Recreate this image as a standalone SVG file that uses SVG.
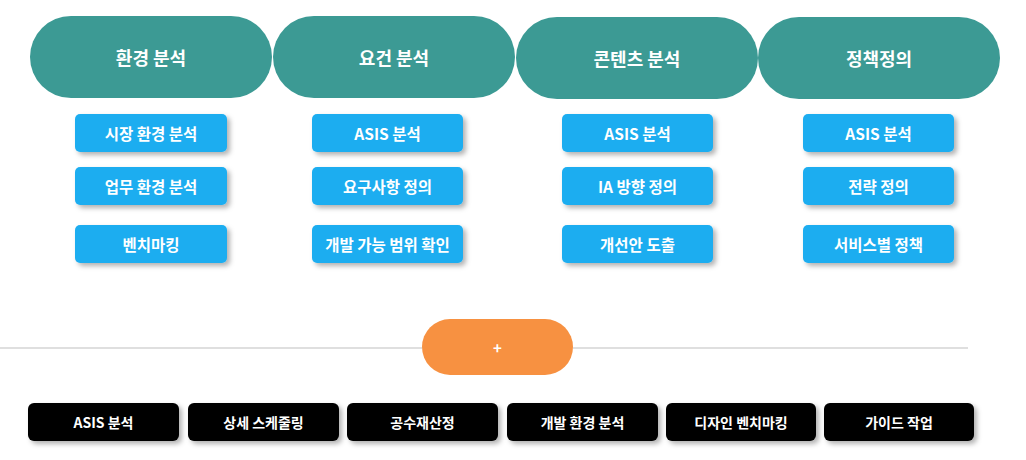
<svg xmlns="http://www.w3.org/2000/svg" width="1026" height="460" viewBox="0 0 1026 460">
<style>
text{font-family:"Noto Sans CJK KR","Noto Sans",sans-serif;font-weight:bold;fill:#fff;text-anchor:middle;dominant-baseline:central}
.pill{fill:#3C9A94}
.pt{font-size:18px}
.blue{fill:#1DADF0}
.bt{font-size:15.5px}
.blk{fill:#000}
.kt{font-size:14px}
.line{stroke:#d4d4d4;stroke-width:1.5}
</style>
<defs>
<filter id="sh" x="-10%" y="-20%" width="125%" height="160%">
<feDropShadow dx="3" dy="3" stdDeviation="2.5" flood-color="#000" flood-opacity="0.3"/>
</filter>
</defs>
<rect width="1026" height="460" fill="#fff"/>
<g id="connectors">
<line class="line" x1="0" y1="348" x2="422" y2="348"/>
<line class="line" x1="573" y1="348" x2="968" y2="348"/>
</g>
<g id="h1"><rect class="pill" x="30" y="16" width="242" height="82" rx="41"/><text class="pt" x="151" y="57">환경 분석</text></g>
<g id="h2"><rect class="pill" x="273" y="16" width="242" height="82" rx="41"/><text class="pt" x="394" y="57">요건 분석</text></g>
<g id="h3"><rect class="pill" x="516" y="17" width="242" height="82" rx="41"/><text class="pt" x="637" y="58">콘텐츠 분석</text></g>
<g id="h4"><rect class="pill" x="758" y="17" width="242" height="82" rx="41"/><text class="pt" x="879" y="58">정책정의</text></g>

<g id="b11"><rect class="blue" filter="url(#sh)" x="75" y="114" width="152" height="38" rx="5"/><text class="bt" x="151" y="133">시장 환경 분석</text></g>
<g id="b12"><rect class="blue" filter="url(#sh)" x="75" y="167" width="152" height="38" rx="5"/><text class="bt" x="151" y="186">업무 환경 분석</text></g>
<g id="b13"><rect class="blue" filter="url(#sh)" x="75" y="225" width="152" height="38" rx="5"/><text class="bt" x="151" y="244">벤치마킹</text></g>

<g id="b21"><rect class="blue" filter="url(#sh)" x="312" y="114" width="151" height="38" rx="5"/><text class="bt" x="387.5" y="133">ASIS 분석</text></g>
<g id="b22"><rect class="blue" filter="url(#sh)" x="312" y="167" width="151" height="38" rx="5"/><text class="bt" x="387.5" y="186">요구사항 정의</text></g>
<g id="b23"><rect class="blue" filter="url(#sh)" x="312" y="225" width="151" height="38" rx="5"/><text class="bt" x="387.5" y="244">개발 가능 범위 확인</text></g>

<g id="b31"><rect class="blue" filter="url(#sh)" x="562" y="114" width="151" height="38" rx="5"/><text class="bt" x="637.5" y="133">ASIS 분석</text></g>
<g id="b32"><rect class="blue" filter="url(#sh)" x="562" y="167" width="151" height="38" rx="5"/><text class="bt" x="637.5" y="186">IA 방향 정의</text></g>
<g id="b33"><rect class="blue" filter="url(#sh)" x="562" y="225" width="151" height="38" rx="5"/><text class="bt" x="637.5" y="244">개선안 도출</text></g>

<g id="b41"><rect class="blue" filter="url(#sh)" x="803" y="114" width="151" height="38" rx="5"/><text class="bt" x="878.5" y="133">ASIS 분석</text></g>
<g id="b42"><rect class="blue" filter="url(#sh)" x="803" y="167" width="151" height="38" rx="5"/><text class="bt" x="878.5" y="186">전략 정의</text></g>
<g id="b43"><rect class="blue" filter="url(#sh)" x="803" y="225" width="151" height="38" rx="5"/><text class="bt" x="878.5" y="244">서비스별 정책</text></g>

<g id="plus"><rect x="422" y="319" width="151" height="56" rx="28" fill="#F79141"/><text x="497.5" y="347" style="font-size:15px">+</text></g>

<g id="k1"><rect class="blk" filter="url(#sh)" x="28" y="403" width="151" height="38" rx="6"/><text class="kt" x="103.5" y="422">ASIS 분석</text></g>
<g id="k2"><rect class="blk" filter="url(#sh)" x="188" y="403" width="151" height="38" rx="6"/><text class="kt" x="263.5" y="422">상세 스케줄링</text></g>
<g id="k3"><rect class="blk" filter="url(#sh)" x="347" y="403" width="151" height="38" rx="6"/><text class="kt" x="422.5" y="422">공수재산정</text></g>
<g id="k4"><rect class="blk" filter="url(#sh)" x="507" y="403" width="151" height="38" rx="6"/><text class="kt" x="582.5" y="422">개발 환경 분석</text></g>
<g id="k5"><rect class="blk" filter="url(#sh)" x="666" y="403" width="150" height="38" rx="6"/><text class="kt" x="741" y="422">디자인 벤치마킹</text></g>
<g id="k6"><rect class="blk" filter="url(#sh)" x="824" y="403" width="150" height="38" rx="6"/><text class="kt" x="899" y="422">가이드 작업</text></g>
</svg>
